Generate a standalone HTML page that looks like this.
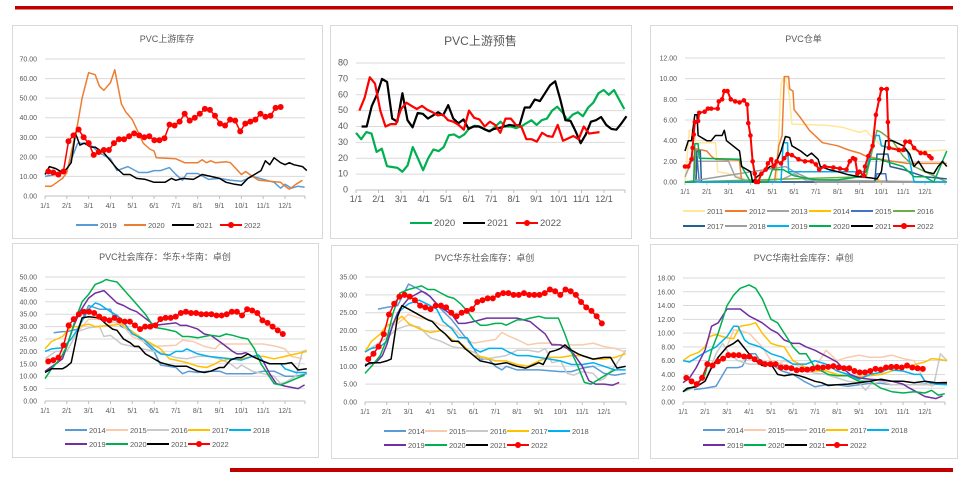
<!DOCTYPE html>
<html><head><meta charset="utf-8">
<style>
html,body{margin:0;padding:0;background:#fff;}
body{width:969px;height:483px;overflow:hidden;position:relative;font-family:"Liberation Sans","Noto Sans CJK SC",sans-serif;}
svg{position:absolute;left:0;top:0;}
</style></head><body>
<svg id="s" width="969" height="483" xmlns="http://www.w3.org/2000/svg" font-family="Liberation Sans, Noto Sans CJK SC, sans-serif">
<rect x="15" y="6" width="938" height="3.5" fill="#c00000"/>
<rect x="230" y="468" width="723" height="4" fill="#c00000"/>
</svg>
<script>
var S=document.getElementById('s');var NS='http://www.w3.org/2000/svg';
function el(t,a,txt){var e=document.createElementNS(NS,t);for(var k in a)e.setAttribute(k,a[k]);if(txt!=null)e.textContent=txt;S.appendChild(e);return e;}
var C={'2011':'#ffe699','2012':'#ed7d31','2013':'#a5a5a5','2014':'#5b9bd5','2015':'#f8cbad','2016':'#c9c9c9','2017':'#ffc000','2018':'#00b0f0','2019':'#7030a0','2020':'#00b050','2021':'#000','2022':'#ff0000'};
function ev(s,e,v){var r=[];for(var i=0;i<v.length;i++)r.push([s+(e-s)*i/(v.length-1),v[i]]);return r;}
function chart(p){
 el('rect',{x:p.box[0]+.5,y:p.box[1]+.5,width:p.box[2]-p.box[0],height:p.box[3]-p.box[1],fill:'#fff',stroke:'#d9d9d9'});
 el('text',{x:(p.box[0]+p.box[2])/2,y:p.ty,'text-anchor':'middle','font-size':p.tf||9,fill:'#595959'},p.title);
 var X0=p.x0,X11=p.x11,XE=p.xe,Y0=p.y0,YT=p.yt,mx=p.ymax;
 var dx=(X11-X0)/11;
 function X(m){return X0+m*dx;} function Y(v){return Y0-(Y0-YT)*v/mx;}
 for(var v=0;v<=mx+1e-9;v+=p.step){var y=Y(v);
  if(v>0)el('line',{x1:X0,x2:XE,y1:y,y2:y,stroke:'#d9d9d9','stroke-width':1});
  el('text',{x:X0-8,y:y+2.5,'text-anchor':'end','font-size':p.lf||7,fill:'#595959'},p.int?String(v):v.toFixed(2));}
 el('line',{x1:X0,x2:XE,y1:Y0,y2:Y0,stroke:'#bfbfbf'});
 for(var m=0;m<12;m++){el('line',{x1:X(m),x2:X(m),y1:Y0,y2:Y0+3,stroke:'#bfbfbf'});
  el('text',{x:X(m),y:Y0+12,'text-anchor':'middle','font-size':p.lf||7,fill:'#595959'},(m+1)+'/1');}
 el('line',{x1:XE,x2:XE,y1:Y0,y2:Y0+3,stroke:'#bfbfbf'});
 p.series.forEach(function(s){var d=s.d.map(function(q){return X(q[0]).toFixed(1)+','+Y(q[1]).toFixed(1);}).join(' ');
  var c=p.col?p.col[s.n]:C[s.n];
  el('polyline',{points:d,fill:'none',stroke:c,'stroke-width':s.w||1.5,'stroke-linejoin':'round'});
  if(s.mk)s.d.forEach(function(q){el('circle',{cx:X(q[0]),cy:Y(q[1]),r:s.mk,fill:c});});});
 p.legend.forEach(function(L){var x=L.x,y=L.y;L.n.forEach(function(n){var c=p.col?p.col[n]:C[n];
  el('line',{x1:x,x2:x+22,y1:y,y2:y,stroke:c,'stroke-width':2});
  if(n=='2022')el('circle',{cx:x+11,cy:y,r:3,fill:c});
  el('text',{x:x+24,y:y+3,'font-size':p.gf||7.5,fill:'#595959'},n);x+=L.sp;});});
}
var col1={'2019':'#5b9bd5','2020':'#ed7d31','2021':'#000','2022':'#ff0000'};
chart({box:[12,25,322,238],title:'PVC上游库存',ty:42,x0:45,x11:285,xe:305,y0:196,yt:59,ymax:70,step:10,col:col1,
series:[
{n:'2019',d:[[0,10],[0.5,11],[1,13],[1.5,27],[2,27],[2.5,22],[3,19],[3.3,13],[3.8,15],[4.3,12],[4.7,12],[5,13],[5.3,13],[5.7,14.5],[6,11],[6.3,8],[6.5,11.5],[7,11.5],[7.5,8.5],[8,9],[8.5,8],[9,7.5],[9.5,10],[10,8.5],[10.5,7],[10.8,4],[11,6],[11.3,4],[11.6,5],[11.9,4.5]]},
{n:'2020',d:[[0,5],[0.3,5],[0.8,9],[1,12],[1.5,37],[1.7,50],[2,63],[2.3,62],[2.5,56],[2.7,54],[3,58],[3.2,64.5],[3.5,47],[3.7,43],[4,39],[4.3,32],[4.5,27],[4.8,24],[5,23],[5.1,19.5],[6,19],[6.4,17],[7,17],[7.2,18.5],[7.4,17],[7.6,18],[7.8,17],[8.3,17.5],[8.5,17],[9,11],[9.2,12.5],[9.5,10],[9.8,8],[10.3,7.5],[10.8,7],[11,5],[11.2,3.5],[11.5,6],[11.8,8]]},
{n:'2021',d:[[0,11],[0.2,15],[0.5,14],[0.8,12],[1,14],[1.2,17],[1.4,32],[1.6,26],[1.8,27],[2.1,25],[2.3,25],[2.7,22],[3,18],[3.3,14],[3.6,11],[3.9,11],[4.2,9],[4.6,8.5],[5,7],[5.5,7],[5.8,9],[6,8],[6.3,9],[6.8,8.5],[7.2,11],[7.6,10],[8,9],[8.3,7],[8.7,6],[9,5.5],[9.3,9],[9.6,11],[9.9,13],[10.1,18],[10.3,16],[10.5,19.5],[10.8,17],[11,16],[11.2,17],[11.4,16],[11.8,15],[12,13]]},
{n:'2022',mk:3,d:ev(0.15,10.8,[12.5,12,11,12.5,28,31,34,30,27,21,22.5,23.5,23.5,27,29,29,30.5,32,31,30,30.5,28.5,28.5,29.5,36.5,36,38,42,38.5,40,42,44.5,44,41,37,36,39,38.5,33,37,38,39,42,40.5,41,45,45.5])}],
legend:[{x:76,y:225,sp:48,n:['2019','2020','2021','2022']}]});

var col2={'2020':'#00b050','2021':'#000','2022':'#ff0000'};
chart({box:[330,25,631,238],title:'PVC上游预售',ty:45,tf:12,lf:9,gf:9.5,int:1,x0:356,x11:604,xe:625,y0:190,yt:63,ymax:80,step:10,col:col2,
series:[
{n:'2020',w:2.2,d:ev(0,11.9,[36,32,36.5,35.5,24,26,15,14.5,14,11.5,15.5,27,20,12.5,20,25.5,24.5,27,34.5,35,33,35,39,40.5,40,38,37,40,43,40,40,39,40,42,44,41,44,45,50,52.5,49,44,47.5,49,46.5,52,55,61,63,60,63,57,51])},
{n:'2021',w:2.2,d:ev(0.25,12,[40,40,53,60,70,68,45,43,61,44,39.5,48.5,48,45,47,49,47,53.5,45,42,44.5,38.5,40,40,38.5,37,38.5,39,40,41,40.5,41,52,52,57,56,61,66,68.5,57,44,43.5,37,29.5,35,43,44,46,41,38.5,38,42,46.5])},
{n:'2022',w:2.2,d:ev(0.15,10.8,[50,58,71,67,50,40,41.5,41.5,51,55,53,51,53,50.5,49,47,47.5,44,43,41,38,50,45.5,44.5,40,43,41,36,45,45,41,40,32,32,30.5,36,34,33.5,41,31,32.5,34,32,40,35.5,36,36.5])}],
legend:[{x:410,y:223,sp:53,n:['2020','2021','2022']}]});

var col3={'2011':'#ffe699','2012':'#ed7d31','2013':'#a5a5a5','2014':'#ffc000','2015':'#4472c4','2016':'#70ad47','2017':'#255e91','2018':'#9e9e9e','2019':'#00b0f0','2020':'#00b050','2021':'#000','2022':'#ff0000'};
chart({box:[650,25,957,238],title:'PVC仓单',ty:42,x0:685,x11:925,xe:945,y0:182,yt:58,ymax:12,step:2,col:col3,
series:[
{n:'2011',d:[[0,0],[0.2,5],[0.4,5],[0.5,3.8],[1.4,3.8],[1.5,1],[2,0.8],[2.5,0.5],[3,0],[4.2,0],[4.4,9.5],[4.55,10.2],[4.75,9],[4.9,5.6],[6.5,5.5],[7.2,5.3],[8,4.8],[8.3,5],[8.5,4.5],[9,3.5],[10,3.2],[11,3],[12,3.1]]},
{n:'2012',d:[[0,0],[0.4,0],[0.5,3.2],[1,3],[1.2,2.5],[1.4,2.2],[2.5,2.1],[2.6,0],[4.1,0],[4.3,3.5],[4.45,4.5],[4.55,10.2],[4.75,10.2],[4.8,9],[4.95,8.8],[5,7],[5.3,6.2],[5.7,5],[6.3,3.8],[7,3.5],[7.5,3.1],[8,2.8],[8.3,2.5],[9,2.2],[9.5,2],[10.2,1.8],[12,1.8]]},
{n:'2013',d:[[0,0.5],[0.2,1.5],[0.4,2.5],[0.5,2],[2,2],[2.3,0.5],[3,0],[4.5,0.3],[5,0.8],[5.5,0.2],[12,0]]},
{n:'2014',d:[[0,0],[8.7,0],[8.8,0.3],[9,0],[12,0]]},
{n:'2015',d:[[0,0],[0.5,0],[0.55,2.5],[0.65,0],[8.7,0],[8.8,0.8],[9.2,0.8],[9.25,0],[12,0]]},
{n:'2016',d:[[0,0],[8.3,0.5],[8.8,5],[9,4.8],[9.5,4],[10,2.5],[10.5,1.5],[11,1],[11.5,0.5],[12,0]]},
{n:'2017',d:[[0,0],[0.5,0],[0.55,3],[0.7,3],[0.75,0],[8.7,0],[8.8,2.7],[9.3,2.7],[9.4,1.5],[10,1.2],[11,0.5],[12,0.3]]},
{n:'2018',d:[[0,0],[4.6,1.5],[5,1],[5.5,0.5],[6,0],[12,0]]},
{n:'2019',d:[[0,0],[4.4,0],[4.5,3.8],[4.7,3.8],[4.75,1],[8.3,1],[8.7,4.5],[8.9,4.5],[9,3.5],[10,3],[10.2,3],[10.5,0],[12,0]]},
{n:'2020',d:[[0,0],[0.4,0],[0.45,3.7],[0.6,3.7],[0.65,2.3],[2.5,2.2],[2.6,1.5],[3,0],[3.8,0],[4,1.2],[4.5,1.2],[5,0.6],[6,0.2],[7,0.2],[8,0.5],[8.3,1],[8.5,2.2],[8.9,2.2],[9.2,2],[10,1.5],[10.5,0.5],[11,0.5],[11.4,0],[11.6,1],[11.9,2.5],[12,3]]},
{n:'2021',d:[[0,3],[0.15,4],[0.3,4],[0.45,6.5],[0.55,6.5],[0.6,4.5],[1,4],[1.2,4],[1.4,4.5],[1.7,4.5],[1.8,5],[1.9,4],[2.5,3],[2.6,1.5],[3,1],[3.1,0],[3.3,0.5],[3.6,1],[3.9,1.5],[4.1,1.5],[4.4,3],[4.6,4.4],[4.8,4.3],[4.9,3.5],[5.3,3],[5.6,2.5],[5.8,2.8],[6.1,2.2],[6.2,1.5],[6.6,1.2],[7,1],[7.5,0.7],[8,0.5],[8.5,0.4],[8.8,0.3],[9,1],[9.2,4],[9.5,4],[10,3.5],[10.3,2.7],[10.5,1.5],[10.7,2],[11,1],[11.4,0.8],[11.6,1.5],[11.8,2],[12,1.5]]},
{n:'2022',w:2,mk:2.3,d:[[0,1.5],[0.15,1.5],[0.3,2.2],[0.35,3.3],[0.4,4.6],[0.45,5.8],[0.6,5.9],[0.65,6.7],[0.9,6.8],[1.05,7.1],[1.2,7.1],[1.5,7.1],[1.55,7.8],[1.7,8],[1.8,8.8],[1.95,8.8],[2.1,8],[2.3,7.8],[2.5,7.7],[2.7,7.9],[2.85,7.5],[2.9,5.7],[3.0,4.5],[3.1,2],[3.2,0.8],[3.25,0],[3.35,0],[3.5,0.8],[3.7,1.2],[3.8,1.8],[3.95,2.2],[4.05,1.5],[4.2,2],[4.4,1.8],[4.55,2.3],[4.7,2.7],[4.9,2.6],[5.2,2.2],[5.5,2],[5.8,2],[6.0,1.7],[6.15,1.2],[6.4,1.5],[6.8,1.4],[7.1,1.3],[7.4,1.2],[7.55,2],[7.7,2.3],[7.8,2.2],[7.9,0.8],[8.0,1],[8.2,0.6],[8.25,1.5],[8.4,2.5],[8.6,3.5],[8.75,6.5],[8.9,8],[9,9],[9.25,9],[9.3,5.8],[9.35,3.3],[9.8,3.1],[10.0,3.1],[10.1,3.9],[10.3,3.9],[10.5,3.3],[10.8,2.8],[11,2.8],[11.2,2.5],[11.3,2.3]]}],
legend:[{x:683,y:211,sp:42,n:['2011','2012','2013','2014','2015','2016']},{x:683,y:226,sp:42,n:['2017','2018','2019','2020','2021','2022']}]});

chart({box:[12,243,318,457],title:'PVC社会库存：华东+华南：卓创',ty:260,x0:45,x11:285,xe:305,y0:401,yt:277,ymax:50,step:5,
series:[
{n:'2014',d:[[0.4,27.5],[0.8,28],[1,28],[1.5,29],[2,38.5],[2.5,37],[3,37],[3.2,33],[3.5,30],[4,28],[4.5,24],[5,20],[5.3,14.5],[6,13.5],[6.3,11],[6.6,12],[7,11.5],[7.5,12],[8,12],[8.3,11],[8.8,11],[9.5,11],[10,12],[10.5,12],[11,10],[11.5,10],[12,11]]},
{n:'2015',d:[[1,20],[1.5,28],[2,33],[2.5,33],[3,32],[3.5,31],[4,26],[4.5,24],[5,22],[6,22.5],[6.3,24.5],[6.8,24],[7.3,22],[7.8,21],[8,23],[9,23],[10,23],[10.6,22],[11,21],[11.3,18],[11.8,17]]},
{n:'2016',d:[[0,17],[0.5,20],[1,20],[1.5,28],[2,29.5],[2.5,30],[2.7,26],[3,26.5],[3.5,23],[4,22],[4.5,21],[5,20],[5.5,19],[6,17.5],[6.5,17],[7,18],[7.5,18],[8,17],[8.5,15],[8.8,13],[9,14.5],[9.5,12],[10,11],[10.5,10],[10.8,7],[11,7.5],[11.5,10],[11.8,20],[12,20.5]]},
{n:'2017',d:[[0,21],[0.3,24],[0.8,26],[1.2,30],[1.5,30],[2,31],[2.3,30],[3,30.5],[3.5,31],[4,28],[4.5,25],[5,22.5],[5.3,21],[5.7,17],[6,16.5],[6.5,15.5],[7,14],[7.4,13.5],[7.8,15],[8,16],[8.5,17],[9,17],[9.5,18],[10,18],[10.5,17],[11,18],[11.5,19],[12,20]]},
{n:'2018',d:[[0,20],[0.3,21],[0.8,21.5],[1.2,25],[1.5,29],[2,37],[2.3,39.5],[2.5,39],[3,36],[3.3,34.5],[3.5,33],[4,27],[4.5,25],[5,21],[5.3,19],[5.7,18.5],[6,20],[6.3,20],[6.5,21],[7,19],[7.5,18],[8,17.5],[8.5,17],[9,16.5],[9.5,18],[9.8,18.5],[10,16],[10.3,15],[10.8,15],[11,13],[11.5,11.5],[12,11.5]]},
{n:'2019',d:[[0,12],[0.5,15],[0.8,17],[1,22],[1.3,30],[1.6,36],[2,41.5],[2.3,43.5],[2.7,44.5],[3,42],[3.3,39.5],[3.6,38.5],[3.9,37],[4.2,36],[4.5,34],[4.8,32],[5,30.5],[5.5,31],[6,31.5],[6.2,30.5],[6.5,30.5],[7,29],[7.3,27],[7.6,26.5],[8,24],[8.3,22],[8.6,20],[8.8,19],[9,19],[9.2,19.5],[9.5,18],[10,16],[10.3,11],[10.6,7],[11,6],[11.6,5],[11.9,6.5]]},
{n:'2020',d:[[0,9],[0.3,13],[0.7,17],[1,22],[1.4,33],[1.7,40],[2,43],[2.3,47],[2.6,48],[2.8,49],[3,48.5],[3.3,48],[3.6,45],[4,41],[4.3,38],[4.6,35],[4.9,31],[5.1,29.5],[5.5,29],[6,28],[6.3,26],[6.6,26],[7,25.5],[7.3,26],[7.6,26.5],[8,26],[8.3,27],[8.6,26.5],[9,25.5],[9.3,25],[9.6,21],[9.9,15],[10.2,11],[10.5,7],[10.8,6.5],[11.1,7.5],[11.5,9],[11.9,10.5]]},
{n:'2021',d:[[0,11.5],[0.3,13],[0.8,13],[1,14],[1.2,15.5],[1.5,28],[1.7,33.5],[2,34],[2.5,33.5],[2.8,31],[3.1,29],[3.3,28.5],[3.6,25],[3.9,23.5],[4.1,22],[4.3,22],[4.6,19],[5,17],[5.3,15.5],[5.5,15],[5.7,14.5],[6,14],[6.5,14],[7,12],[7.3,11.5],[7.6,12],[8,13.5],[8.2,13.5],[8.5,16.5],[8.8,17.5],[9,17.5],[9.3,19],[9.5,18],[10,16],[10.3,15],[11,15],[11.3,15.5],[11.6,12.5],[12,13]]},
{n:'2022',mk:3,d:ev(0.15,10.9,[16,16.5,17.5,22.5,30.5,33,35,36,36,35.5,34,33,32.5,33.5,32.5,32,32,30.5,29,30,30,30.5,33,33.5,33.5,34,35.5,36,35.5,35.5,35,35,35,34.5,34.5,35,36,36,34.5,37,36.5,35.5,32.5,31.5,30,28.5,27])}],
legend:[{x:65,y:430,sp:41,n:['2014','2015','2016','2017','2018']},{x:65,y:444,sp:41,n:['2019','2020','2021','2022']}]});

chart({box:[331,245,638,458],title:'PVC华东社会库存：卓创',ty:261,x0:365,x11:604,xe:626,y0:402,yt:277,ymax:35,step:5,
series:[
{n:'2014',d:[[0.6,26],[1,26.5],[1.5,27],[2,33],[2.5,31.5],[3,29.5],[3.5,26],[4,23],[4.5,19],[5,15],[5.3,12],[5.7,12],[6,10],[6.3,9],[6.5,10],[7,9],[8,9],[9,8.5],[9.5,8.5],[10,9.5],[10.5,10],[11,8],[11.5,7.5],[12,8]]},
{n:'2015',d:[[1,21],[1.5,22],[2,24.5],[2.5,23.5],[3,23],[3.5,21.5],[4,21],[4.5,18],[5,16.5],[5.5,17],[6,17.5],[6.3,19.5],[6.6,18.5],[7,17.5],[7.5,16],[8,16.5],[8.5,16.5],[9,16],[9.5,16],[10,16],[10.5,16.5],[11,15.5],[11.5,15],[12,14]]},
{n:'2016',d:[[0,14],[0.5,16],[1,18],[1.5,20.5],[2,21.5],[2.5,21],[3,18],[3.5,17],[4,15.5],[4.5,15],[5,14],[5.5,12],[6,12.5],[6.5,13],[7,14.5],[7.5,14.5],[8,14],[8.3,15],[8.6,11],[9,11.5],[9.3,8],[9.6,7.5],[10,8.5],[10.5,8],[10.8,6],[11,6.5],[11.5,10],[12,14.5]]},
{n:'2017',d:[[0,14],[0.3,17],[0.7,19],[1,21.5],[1.3,22],[1.7,24],[2,22],[2.5,20.5],[3,19.5],[3.5,20],[4,17.5],[4.5,16],[5,13],[5.5,12.5],[6,11.5],[6.5,11.5],[7,10.5],[7.5,10],[8,11.5],[8.5,12.5],[9,12.5],[9.5,13],[10,13],[10.5,12],[11,12],[11.5,12.5],[12,13.5]]},
{n:'2018',d:[[0,14],[0.3,15],[0.7,15.5],[1,17],[1.5,25],[2,27.5],[2.5,28.5],[3,27],[3.3,26],[3.6,22.5],[4,20.5],[4.3,18],[4.7,18],[5,15],[5.3,14],[5.7,15],[6,15],[6.3,15],[6.6,14],[7,13],[7.5,13],[8,12.5],[8.5,12],[9,11.5],[9.5,10.5],[10,10.5],[10.5,11],[11,10],[11.5,9],[12,9]]},
{n:'2019',d:[[0,10.5],[0.5,11],[0.8,13],[1,16],[1.3,22],[1.6,26],[2,29],[2.3,30],[2.6,31],[2.8,30.5],[3,29.5],[3.3,27.5],[3.6,26],[4,24.5],[4.3,22],[4.6,22],[5,22.5],[5.3,23],[5.6,23.5],[6,23.5],[6.5,23.5],[7,23.5],[7.3,23],[7.6,22.5],[8,20.5],[8.3,19],[8.6,16],[9,16],[9.3,15],[9.6,13.5],[10,10],[10.3,6],[10.6,5],[11,5],[11.4,4.7],[11.7,5.5]]},
{n:'2020',d:[[0,8],[0.3,10],[0.7,13],[1,17.5],[1.3,25],[1.6,30.5],[2,31.5],[2.3,32],[2.6,32.5],[2.9,31.5],[3.2,31.5],[3.5,30.5],[3.8,29.5],[4.1,29],[4.4,27.5],[4.7,25.5],[5,23],[5.3,21.5],[5.6,21.5],[6,22],[6.3,22],[6.5,21.5],[7,23],[7.3,23],[7.6,23.5],[8,24],[8.3,23.5],[8.6,23.5],[8.9,23.5],[9.2,19],[9.5,14],[9.8,10],[10.1,5.5],[10.4,5],[10.8,6.5],[11.2,8],[11.5,9]]},
{n:'2021',d:[[0,10],[0.2,11],[0.7,11],[1,11.5],[1.2,12],[1.5,24],[1.7,27],[2,26],[2.3,25],[2.6,24],[2.9,23],[3.1,22.5],[3.4,20.5],[3.7,19],[4,17],[4.3,17],[4.6,15],[5,13],[5.3,11.5],[5.7,11],[6,10.5],[6.5,11],[7,10],[7.4,9.5],[7.8,10.5],[8,11],[8.2,10.5],[8.5,14],[8.8,14.5],[9,15],[9.2,16],[9.5,14.5],[9.8,13.5],[10,13],[10.5,12],[11,12.5],[11.3,12.5],[11.6,9.5],[12,10]]},
{n:'2022',mk:3,d:ev(0.15,10.9,[12,13.5,15.5,19,24.5,27.5,29.5,30,29.5,28.5,27,26.5,26,27,27,26.5,25,24,25,25.5,26,28,28.5,29,29,30,30.5,30.5,30,30,30.5,30,30,30,30.5,31.5,31,30,31.5,31,30,28,26.5,25.5,24,22])}],
legend:[{x:384,y:431,sp:41,n:['2014','2015','2016','2017','2018']},{x:384,y:445,sp:41,n:['2019','2020','2021','2022']}]});

chart({box:[650,244,957,458],title:'PVC华南社会库存：卓创',ty:261,x0:683,x11:925,xe:945,y0:402,yt:278,ymax:18,step:2,
series:[
{n:'2014',d:[[0.5,1.8],[1,2],[1.5,2.3],[2,5],[2.5,5],[2.7,5.2],[3,7],[3.3,7],[3.5,6],[4,5.5],[4.5,4.5],[5,4],[5.5,3],[6,2.2],[6.5,2.5],[7,2.5],[7.5,2.3],[8,2.5],[8.5,2.7],[9,2.7],[9.5,2.5],[10,2.5],[10.5,2.5],[11,2.6],[11.5,2.6],[12,2.6]]},
{n:'2015',d:[[1,3.5],[1.5,6],[2,8],[2.3,10.5],[2.6,10.3],[3,10],[3.3,9],[3.6,8],[4,6],[4.3,5.5],[4.6,6],[5,5.5],[5.5,5],[6,5],[6.5,7.5],[7,6],[7.5,6.5],[8,6.8],[8.5,6.5],[9,6.5],[9.5,6.8],[10,6.3],[10.5,6],[11,3],[11.3,2.3],[11.6,2.8],[12,3]]},
{n:'2016',d:[[0,1.5],[0.5,2],[1,3],[1.5,7],[1.8,8.5],[2.1,7],[2.5,6],[3,5.5],[3.5,5.5],[4,5.5],[4.5,5.5],[5,5],[5.5,4.5],[6,4.2],[6.5,4],[7,3.5],[7.5,3],[8,2.8],[8.3,1.7],[8.5,2.5],[9,3],[9.5,2.5],[10,2.5],[10.5,2.5],[11,2.5],[11.4,2.5],[11.7,7],[12,6]]},
{n:'2017',d:[[0,6],[0.3,6.7],[0.7,7.2],[1,8],[1.2,9.5],[1.5,9.8],[1.8,9.5],[2,9.3],[2.3,9.2],[2.6,11],[3,11.2],[3.3,11.5],[3.6,10],[4,8.5],[4.3,8.2],[4.6,8],[5,6],[5.3,5.5],[5.6,5],[6,4.5],[6.5,4.5],[7,4],[7.5,3.8],[8,3.7],[8.5,3.8],[9,4],[9.5,4.5],[10,5],[10.3,5],[10.6,5.5],[11,5.8],[11.3,6.3],[11.6,6.2],[12,6]]},
{n:'2018',d:[[0,6],[0.3,5.8],[0.5,6.2],[1,7.2],[1.5,8],[2,9.5],[2.3,11],[2.5,11],[2.8,9],[3,8.5],[3.5,8],[4,7],[4.5,6.5],[5,5.5],[5.3,5.5],[5.6,5.5],[6,6],[6.5,5.5],[7,4.5],[7.5,4],[8,3.3],[8.5,4],[9,4.3],[9.3,4.8],[9.6,4.6],[10,4.5],[10.5,4],[10.8,4],[11,3],[11.5,2.6],[12,2.5]]},
{n:'2019',d:[[0,2.8],[0.3,3.5],[0.6,5],[1,7.5],[1.3,11],[1.6,11.5],[2,13.5],[2.3,13.5],[2.6,13.5],[3,12.5],[3.3,12],[3.6,11.5],[4,10.5],[4.3,10],[4.6,9],[5,8.5],[5.3,8.5],[5.6,8],[6,7.5],[6.3,7],[6.6,6.5],[7,5.8],[7.3,4.8],[7.6,4],[8,3.5],[8.5,3.3],[9,3.2],[9.5,3],[10,2.6],[10.3,2],[10.6,1.5],[11,0.8],[11.5,0.5],[11.8,0.9]]},
{n:'2020',d:[[0,1.5],[0.3,2],[0.6,2.3],[1,4],[1.3,7.5],[1.6,10],[2,14],[2.3,15.5],[2.6,16.5],[3,17],[3.3,16.5],[3.6,15],[4,12],[4.3,11.5],[4.6,10],[5,8],[5.3,7],[5.6,7],[6,5],[6.3,4.5],[6.6,4],[7,3.8],[7.5,3.8],[8,3],[8.5,3],[9,2],[9.5,1.5],[10,1.3],[10.5,1.5],[11,1.3],[11.3,1.7],[11.6,1],[11.9,1.2]]},
{n:'2021',d:[[0,1.5],[0.2,2],[0.6,2.2],[1,3],[1.3,5],[1.6,6.5],[2,8],[2.3,8.5],[2.5,9],[3,7],[3.3,6],[3.6,5.3],[4,5.5],[4.3,4],[4.6,3.8],[5,4],[5.3,3.8],[5.6,3.5],[6,3],[6.3,2.8],[6.6,2.4],[7,2.5],[7.5,2.6],[8,2.8],[8.5,3],[9,3.3],[9.5,3],[10,3],[10.5,2.8],[11,3],[11.5,2.8],[12,2.8]]},
{n:'2022',mk:3,d:ev(0.15,10.9,[3.5,3,2.6,3.5,5.5,5.3,5.9,6.3,6.8,6.8,6.8,6.6,6.6,6.2,5.8,5.5,5.5,5.5,5,5,4.9,4.6,4.7,4.7,4.8,5,5,5.1,5.2,5,4.9,4.9,4.5,4.3,4.3,4.5,4.8,4.7,5,5.1,5.1,5,5.3,5,4.9,4.8])}],
legend:[{x:703,y:430,sp:41,n:['2014','2015','2016','2017','2018']},{x:703,y:445,sp:41,n:['2019','2020','2021','2022']}]});
</script>
</body></html>
